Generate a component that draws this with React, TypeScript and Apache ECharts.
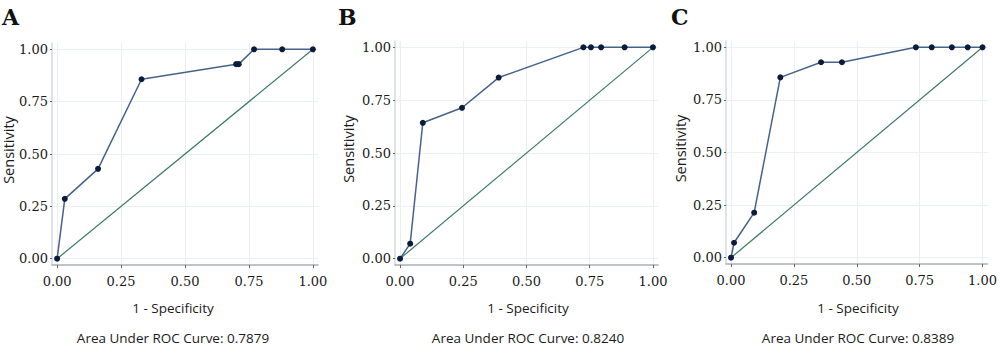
import React, { useEffect, useRef } from "react";
import * as echarts from "echarts";

const panelLabels = ["A", "B", "C"];
const aucTexts = [
  "Area Under ROC Curve: 0.7879",
  "Area Under ROC Curve: 0.8240",
  "Area Under ROC Curve: 0.8389",
];
const tickValues = [0, 0.25, 0.5, 0.75, 1];

const rocAX = [0, 0.03, 0.16, 0.33, 0.7, 0.71, 0.77, 0.88, 1];
const rocAY = [0, 0.286, 0.429, 0.857, 0.929, 0.929, 1, 1, 1];
const rocBX = [0, 0.04, 0.09, 0.245, 0.39, 0.725, 0.755, 0.795, 0.888, 1];
const rocBY = [0, 0.071, 0.643, 0.714, 0.857, 1, 1, 1, 1, 1];
const rocCX = [0, 0.012, 0.092, 0.196, 0.358, 0.441, 0.735, 0.798, 0.878, 0.941, 1];
const rocCY = [0, 0.071, 0.214, 0.857, 0.929, 0.929, 1, 1, 1, 1, 1];
const diagX = [0, 1];
const diagY = [0, 1];

const rocX = [rocAX, rocBX, rocCX];
const rocY = [rocAY, rocBY, rocCY];

// grid rectangles [left, top, right-edge, bottom-edge]
const grids = [
  [52, 43, 318, 265],
  [395, 41, 658, 265],
  [726, 41, 997, 264],
];
const titleCenters = [173, 528, 858];

export default function App() {
  const ref = useRef<HTMLDivElement>(null);
  useEffect(() => {
    if (!ref.current) return;
    const chart = echarts.init(ref.current, undefined, { renderer: "svg" });
    const serif = "DejaVu Serif";
    const sans = "Open Sans";
    const gridOpts = grids.map((g) => ({
      left: g[0],
      top: g[1],
      width: g[2] - g[0],
      height: g[3] - g[1],
    }));
    const xAxes = grids.map((_, i) => ({
      type: "value",
      gridIndex: i,
      min: -0.02,
      max: 1.02,
      axisLine: { show: true, onZero: false, lineStyle: { color: "#a9b0b6", width: 1.5 } },
      axisTick: { show: true, customValues: tickValues, length: 3, lineStyle: { color: "#666" } },
      axisLabel: {
        customValues: tickValues,
        formatter: (v: number) => v.toFixed(2),
        fontFamily: serif,
        fontSize: 13,
        color: "#1a1a1a",
        margin: 10,
      },
      splitLine: { show: true, lineStyle: { color: "#e9f0f3", width: 1 } },
    }));
    const yAxes = grids.map((_, i) => ({
      type: "value",
      gridIndex: i,
      min: -0.03,
      max: 1.03,
      axisLine: { show: true, onZero: false, lineStyle: { color: "#d3dade", width: 1.5 } },
      axisTick: { show: true, customValues: tickValues, length: 2, lineStyle: { color: "#666" } },
      axisLabel: {
        customValues: tickValues,
        formatter: (v: number) => v.toFixed(2),
        fontFamily: serif,
        fontSize: 13,
        color: "#1a1a1a",
        margin: 4,
      },
      splitLine: { show: true, lineStyle: { color: "#e9f0f3", width: 1 } },
    }));
    const series: any[] = [];
    grids.forEach((_, i) => {
      series.push({
        type: "line",
        xAxisIndex: i,
        yAxisIndex: i,
        data: diagX.map((x, k) => [x, diagY[k]]),
        showSymbol: false,
        lineStyle: { color: "#3f7a63", width: 1.2 },
        silent: true,
      });
      series.push({
        type: "line",
        xAxisIndex: i,
        yAxisIndex: i,
        data: rocX[i].map((x, k) => [x, rocY[i][k]]),
        symbol: "circle",
        symbolSize: 6,
        showSymbol: true,
        lineStyle: { color: "#46628a", width: 1.5 },
        itemStyle: { color: "#0b1b3b" },
        silent: true,
      });
    });
    const graphics: any[] = [];
    grids.forEach((g, i) => {
      const cx = titleCenters[i];
      graphics.push({
        type: "text",
        left: [2, 338, 671][i],
        top: 6,
        style: { text: panelLabels[i], font: `bold 22px ${serif}`, fill: "#111" },
      });
      graphics.push({
        type: "text",
        x: cx,
        y: 308,
        style: {
          text: "1 - Specificity",
          font: `13.5px '${sans}'`,
          fill: "#1a1a1a",
          textAlign: "center",
          textVerticalAlign: "middle",
        },
      });
      graphics.push({
        type: "text",
        x: cx,
        y: 338,
        style: {
          text: aucTexts[i],
          font: `13.5px '${sans}'`,
          fill: "#1a1a1a",
          textAlign: "center",
          textVerticalAlign: "middle",
        },
      });
      graphics.push({
        type: "text",
        x: [8, 348, 680][i],
        y: (g[1] + g[3]) / 2 - 4,
        rotation: Math.PI / 2,
        style: {
          text: "Sensitivity",
          font: `14.5px '${sans}'`,
          fill: "#1a1a1a",
          textAlign: "center",
          textVerticalAlign: "middle",
        },
      });
    });
    chart.setOption({
      animation: false,
      backgroundColor: "#fff",
      grid: gridOpts,
      xAxis: xAxes,
      yAxis: yAxes,
      series,
      graphic: graphics,
    });
    return () => chart.dispose();
  }, []);
  return <div ref={ref} style={{ width: 1000, height: 353, position: "absolute", left: 0, top: 0 }} />;
}
